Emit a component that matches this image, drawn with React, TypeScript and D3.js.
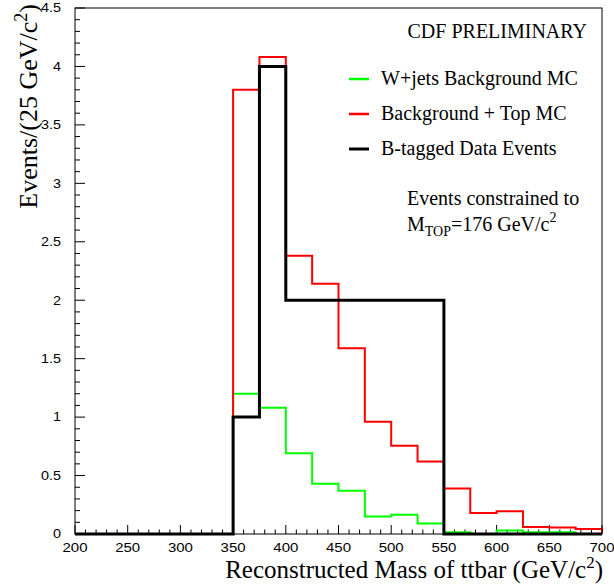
import React from "react";
import * as d3 from "d3";

const binLow = [200, 225, 250, 275, 300, 325, 350, 375, 400, 425, 450, 475, 500, 525, 550, 575, 600, 625, 650, 675];
const binWidth = 25;
const wjets = [0, 0, 0, 0, 0, 0, 1.2, 1.08, 0.69, 0.43, 0.37, 0.15, 0.165, 0.09, 0.015, 0, 0.03, 0.015, 0.015, 0];
const bkgTop = [0, 0, 0, 0, 0, 0, 3.8, 4.08, 2.38, 2.14, 1.59, 0.96, 0.755, 0.62, 0.39, 0.18, 0.195, 0.06, 0.055, 0.043];
const data = [0, 0, 0, 0, 0, 0, 1, 4, 2, 2, 2, 2, 2, 2, 0, 0, 0, 0, 0, 0];
const xMajor = [200, 250, 300, 350, 400, 450, 500, 550, 600, 650, 700];
const yMajor = [0, 0.5, 1, 1.5, 2, 2.5, 3, 3.5, 4, 4.5];
const yLabels = ["0", "0.5", "1", "1.5", "2", "2.5", "3", "3.5", "4", "4.5"];

const W = 614, H = 585;
const L = 75, R = 602, T = 8, B = 534;

export default function App() {
  const x = d3.scaleLinear().domain([200, 700]).range([L, R]);
  const y = d3.scaleLinear().domain([0, 4.5]).range([B, T]);
  const line = d3.line<[number, number]>().x(d => x(d[0])).y(d => y(d[1]));
  const stepPts = (vals: number[]): [number, number][] => {
    const pts: [number, number][] = [[binLow[0], 0]];
    vals.forEach((v, i) => {
      pts.push([binLow[i], v]);
      pts.push([binLow[i] + binWidth, v]);
    });
    pts.push([binLow[binLow.length - 1] + binWidth, 0]);
    return pts;
  };
  const xMinor = d3.range(200, 701, 10).filter(v => !xMajor.includes(v));
  const yMinor = d3.range(0, 4.501, 0.1).filter(v => Math.abs(Math.round(v * 2) - v * 2) > 1e-6);
  const sans = "'Liberation Sans', Arial, sans-serif";
  const serif = "'Liberation Serif', 'Times New Roman', serif";

  return (
    <svg width={W} height={H} style={{ position: "absolute", left: 0, top: 0, background: "#fff" }}>
      <rect x={0} y={0} width={W} height={H} fill="#fff" />
      {/* ticks */}
      {xMinor.map(v => (
        <line key={"xm" + v} x1={x(v)} x2={x(v)} y1={B} y2={B - 4.5} stroke="#000" strokeWidth={1} />
      ))}
      {xMajor.map(v => (
        <line key={"xM" + v} x1={x(v)} x2={x(v)} y1={B} y2={B - 9} stroke="#000" strokeWidth={1} />
      ))}
      {yMinor.map(v => (
        <line key={"ym" + v.toFixed(1)} x1={L} x2={L + 5} y1={y(v)} y2={y(v)} stroke="#000" strokeWidth={1} />
      ))}
      {yMajor.map(v => (
        <line key={"yM" + v} x1={L} x2={L + 10} y1={y(v)} y2={y(v)} stroke="#000" strokeWidth={1} />
      ))}
      {/* histograms */}
      <path d={line(stepPts(wjets)) || ""} fill="none" stroke="#00ff00" strokeWidth={2} />
      <path d={line(stepPts(bkgTop)) || ""} fill="none" stroke="#ff0000" strokeWidth={2} />
      <path d={line(stepPts(data)) || ""} fill="none" stroke="#000" strokeWidth={3} />
      {/* frame */}
      <rect x={L} y={T} width={R - L} height={B - T} fill="none" stroke="#000" strokeWidth={1} />
      {/* tick labels */}
      {xMajor.map(v => (
        <text key={"xl" + v} transform={`translate(${x(v)},552) scale(1.25,1)`} textAnchor="middle"
          fontFamily={sans} fontSize={12} fill="#000">{v}</text>
      ))}
      {yMajor.map((v, i) => (
        <text key={"yl" + v} transform={`translate(61,${y(v) + 4.3}) scale(1.2,1)`} textAnchor="end"
          fontFamily={sans} fontSize={12} fill="#000">{yLabels[i]}</text>
      ))}
      {/* axis titles */}
      <text x={603} y={578} textAnchor="end" fontFamily={serif} fontSize={25} fill="#000">
        Reconstructed Mass of ttbar (GeV/c<tspan dy={-10} fontSize={17}>2</tspan><tspan dy={10}>)</tspan>
      </text>
      <text transform="translate(37,4) rotate(-90)" textAnchor="end" fontFamily={serif} fontSize={26} fill="#000">
        Events/(25 GeV/c<tspan dy={-10} fontSize={18}>2</tspan><tspan dy={10}>)</tspan>
      </text>
      {/* legend */}
      <text x={587} y={38} textAnchor="end" fontFamily={serif} fontSize={20} fill="#000">CDF PRELIMINARY</text>
      <line x1={349} x2={369} y1={79} y2={79} stroke="#00ff00" strokeWidth={2.5} />
      <text x={381} y={85} fontFamily={serif} fontSize={20} fill="#000">W+jets Background MC</text>
      <line x1={349} x2={369} y1={114} y2={114} stroke="#ff0000" strokeWidth={2.5} />
      <text x={381} y={120} fontFamily={serif} fontSize={20} fill="#000">Background + Top MC</text>
      <line x1={349} x2={369} y1={149} y2={149} stroke="#000" strokeWidth={3} />
      <text x={381} y={155} fontFamily={serif} fontSize={20} fill="#000">B-tagged Data Events</text>
      <text x={407} y={205} fontFamily={serif} fontSize={20} fill="#000">Events constrained to</text>
      <text x={407} y={231} fontFamily={serif} fontSize={20} fill="#000">
        M<tspan dy={5} fontSize={14}>TOP</tspan><tspan dy={-5}>=176 GeV/c</tspan><tspan dy={-9} fontSize={14}>2</tspan>
      </text>
    </svg>
  );
}
